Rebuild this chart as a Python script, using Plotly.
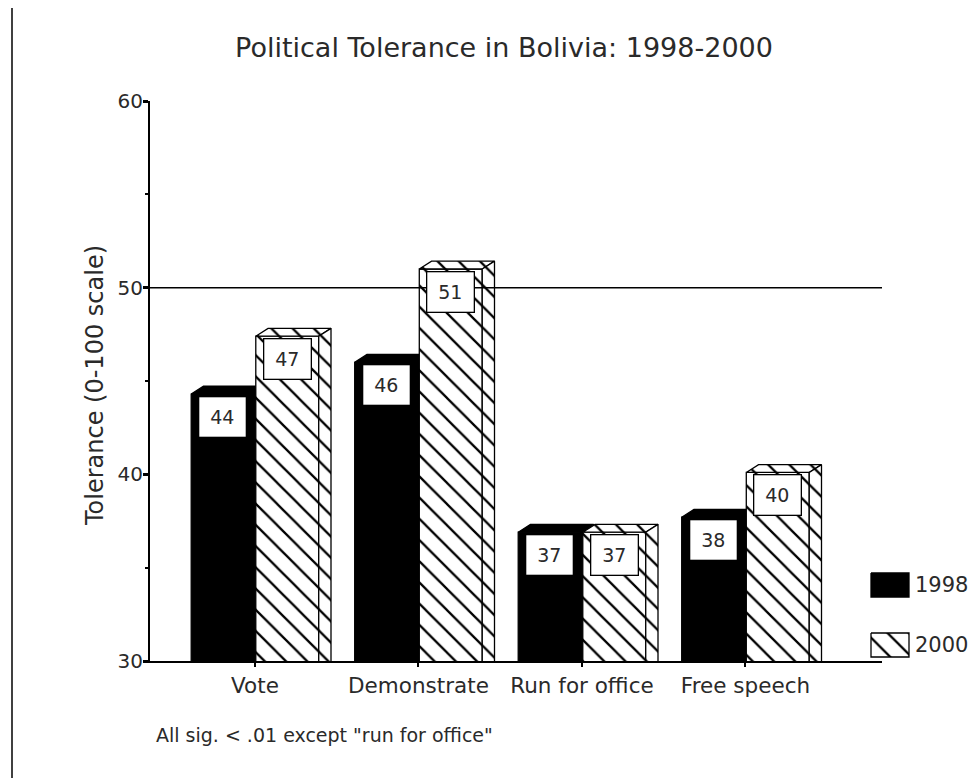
import plotly.graph_objects as go

# Values (0-100 tolerance scale); the printed labels are rounded
categories = ["Vote", "Demonstrate", "Run for office", "Free speech"]
years = ["1998", "2000"]
tol_1998 = [44.3, 46.0, 36.9, 37.7]
tol_2000 = [47.4, 51.0, 36.9, 40.1]

W, H = 979, 778
OFF = 8  # page body margin the browser adds around the figure
FONT = "DejaVu Sans, Verdana, sans-serif"
TXT = "#2a2a2a"

Y_MIN, Y_MAX = 30, 60
BAR_W = 0.385   # width of one bar, in category units
GAP = 0.005     # half the gap between the two bars of a group
DX, DY = 0.075, 0.42  # 3D depth offset (x in category units, y in scale units)

HATCH = dict(shape="\\", fgcolor="black", bgcolor="white", size=15, solidity=0.15,
             fgopacity=1, fillmode="replace")


def px(x):
    """screen x pixel -> paper fraction"""
    return (x - OFF) / W


def py(y):
    """screen y pixel (from top) -> paper fraction"""
    return 1 - (y - OFF) / H


def faces(values, left):
    """Return (front, top, side) outlines for one series, gaps between bars."""
    front, top, side = ([], []), ([], []), ([], [])
    for i, v in enumerate(values):
        x0 = i - GAP - BAR_W if left else i + GAP
        x1 = x0 + BAR_W
        b = Y_MIN - 1
        front[0].extend([x0, x1, x1, x0, x0, None])
        front[1].extend([b, b, v, v, b, None])
        top[0].extend([x0, x1, x1 + DX, x0 + DX, x0, None])
        top[1].extend([v, v, v + DY, v + DY, v, None])
        side[0].extend([x1, x1 + DX, x1 + DX, x1, x1, None])
        side[1].extend([b, b + DY, v + DY, v, b, None])
    return front, top, side


fig = go.Figure()

for values, left in ((tol_1998, True), (tol_2000, False)):
    for xs, ys in faces(values, left):
        kw = dict(fillcolor="black") if left else dict(fillcolor="white", fillpattern=HATCH)
        fig.add_trace(go.Scatter(
            x=xs, y=ys, mode="lines", fill="toself",
            line=dict(color="black", width=1.3),
            hoverinfo="skip", showlegend=False, **kw,
        ))

# value labels in white boxes at the top of each front face
for values, left in ((tol_1998, True), (tol_2000, False)):
    for i, v in enumerate(values):
        xc = i - GAP - BAR_W / 2 if left else i + GAP + BAR_W / 2
        fig.add_annotation(
            x=xc, y=v, xref="x", yref="y", text=f"{v:.0f}", showarrow=False,
            yanchor="top", yshift=-2, width=44, height=37,
            bgcolor="white", bordercolor="black", borderwidth=1.3,
            font=dict(family=FONT, size=19, color=TXT),
        )

# custom legend drawn on an overlay axis (screen pixel units)
legend_rows = [(585, True), (645, False)]
for (yc, solid), label in zip(legend_rows, years):
    xs = [871, 909, 909, 871, 871]
    ys = [yc - 12, yc - 12, yc + 12, yc + 12, yc - 12]
    kw = dict(fillcolor="black") if solid else dict(fillcolor="white", fillpattern=HATCH)
    fig.add_trace(go.Scatter(
        x=xs, y=ys, xaxis="x2", yaxis="y2", mode="lines", fill="toself",
        line=dict(color="black", width=1.3), hoverinfo="skip", showlegend=False, **kw,
    ))
    fig.add_annotation(
        x=px(913), y=py(yc), xref="paper", yref="paper", text=label,
        xanchor="left", yanchor="middle", showarrow=False,
        font=dict(family=FONT, size=21, color=TXT),
    )

# reference line at 50
fig.add_shape(type="line", xref="x domain", yref="y", x0=0, x1=1, y0=50, y1=50,
              line=dict(color="black", width=1.5), layer="above")
# left page border
fig.add_shape(type="line", xref="paper", yref="paper", x0=px(12), x1=px(12), y0=0, y1=1,
              line=dict(color="black", width=1.5))

fig.add_annotation(
    x=px(79), y=py(386), xref="paper", yref="paper", text="Tolerance (0-100 scale)",
    textangle=-90, showarrow=False, font=dict(family=FONT, size=24, color=TXT),
)
fig.add_annotation(
    x=px(154), y=py(748), xref="paper", yref="paper",
    text='All sig. < .01 except "run for office"', xanchor="left", showarrow=False,
    font=dict(family=FONT, size=19, color=TXT),
)

fig.update_layout(
    width=W, height=H,
    margin=dict(l=0, r=0, t=0, b=0),
    paper_bgcolor="white", plot_bgcolor="rgba(0,0,0,0)",
    title=dict(text="Political Tolerance in Bolivia: 1998-2000", x=px(504), y=py(48),
               xanchor="center", yanchor="middle",
               font=dict(family=FONT, size=27, color=TXT)),
    xaxis=dict(
        domain=[px(150), px(882)], range=[-0.642, 3.835], automargin=False,
        tickmode="array", tickvals=list(range(len(categories))), ticktext=categories,
        showgrid=False, zeroline=False, showline=True, linecolor="black", linewidth=2,
        ticks="outside", ticklen=4, tickwidth=2, tickcolor="black",
        tickfont=dict(family=FONT, size=21.5, color=TXT),
    ),
    yaxis=dict(
        domain=[py(661), py(101)], range=[Y_MIN, Y_MAX], automargin=False,
        tickvals=[30, 40, 50, 60], showgrid=False, zeroline=False,
        showline=True, linecolor="black", linewidth=2,
        ticks="outside", ticklen=5, tickwidth=3, tickcolor="black",
        ticklabelstandoff=-4,
        minor=dict(dtick=5, ticks="outside", ticklen=3, tickwidth=1.5, tickcolor="black"),
        tickfont=dict(family=FONT, size=20, color=TXT),
    ),
    xaxis2=dict(domain=[0, 1], range=[OFF, W + OFF], visible=False, anchor="y2",
                automargin=False),
    yaxis2=dict(domain=[0, 1], range=[H + OFF, OFF], visible=False, anchor="x2",
                automargin=False),
    showlegend=False,
)

fig.write_html("out.html")
